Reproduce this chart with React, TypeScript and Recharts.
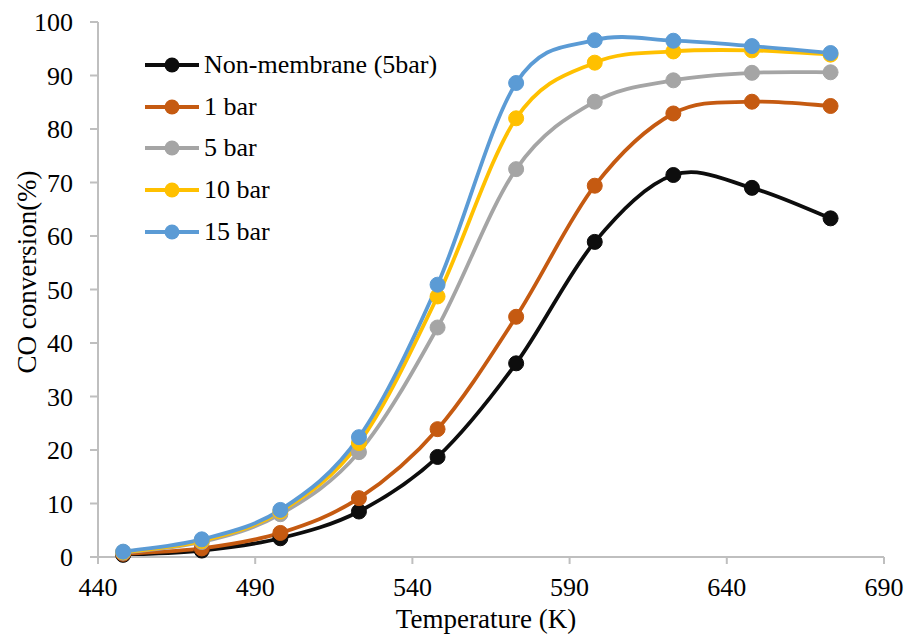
import React from 'react';
import { LineChart, Line, XAxis, YAxis } from 'recharts';

const temperatures = [448, 473, 498, 523, 548, 573, 598, 623, 648, 673];
const nonMembrane = [0.4, 1.2, 3.5, 8.5, 18.7, 36.2, 58.9, 71.4, 69.0, 63.3];
const bar1 = [0.6, 1.6, 4.5, 11.0, 23.9, 44.9, 69.4, 82.9, 85.1, 84.3];
const bar5 = [0.8, 2.8, 8.0, 19.6, 42.9, 72.5, 85.1, 89.1, 90.5, 90.6];
const bar10 = [0.9, 3.0, 8.5, 21.3, 48.7, 82.0, 92.4, 94.5, 94.7, 93.9];
const bar15 = [1.0, 3.3, 8.8, 22.4, 50.9, 88.6, 96.6, 96.5, 95.5, 94.2];

const xTicks = [440, 490, 540, 590, 640, 690];
const yTicks = [0, 10, 20, 30, 40, 50, 60, 70, 80, 90, 100];

const seriesNames = ['Non-membrane (5bar)', '1 bar', '5 bar', '10 bar', '15 bar'];
const seriesKeys = ['nm', 'b1', 'b5', 'b10', 'b15'];
const seriesValues = [nonMembrane, bar1, bar5, bar10, bar15];
const seriesColors = ['#0d0d0d', '#c55a11', '#a5a5a5', '#ffc000', '#5b9bd5'];

const data = temperatures.map((t, i) => {
  const row: any = { t };
  seriesKeys.forEach((k, j) => {
    row[k] = seriesValues[j][i];
  });
  return row;
});

// Excel-like smoothed line (Catmull-Rom style Bezier)
function excelCurve(context: any) {
  let pts: number[][] = [];
  return {
    areaStart() {},
    areaEnd() {},
    lineStart() {
      pts = [];
    },
    point(x: number, y: number) {
      pts.push([+x, +y]);
    },
    lineEnd() {
      const n = pts.length;
      if (n === 0) return;
      context.moveTo(pts[0][0], pts[0][1]);
      if (n === 1) return;
      for (let i = 0; i < n - 1; i++) {
        const p0 = pts[i - 1] || pts[i];
        const p1 = pts[i];
        const p2 = pts[i + 1];
        const p3 = pts[i + 2] || pts[i + 1];
        const c1x = p1[0] + (p2[0] - p0[0]) / 6;
        const c1y = p1[1] + (p2[1] - p0[1]) / 6;
        const c2x = p2[0] - (p3[0] - p1[0]) / 6;
        const c2y = p2[1] - (p3[1] - p1[1]) / 6;
        context.bezierCurveTo(c1x, c1y, c2x, c2y, p2[0], p2[1]);
      }
    },
  };
}

const font = '"Liberation Serif", "Times New Roman", serif';
const axisColor = '#bfbfbf';

const XTitle = () => (
  <text x={486} y={628} textAnchor="middle" fill="#000" fontSize={27} fontFamily={font}>
    Temperature (K)
  </text>
);

const YTitle = () => (
  <text
    x={0}
    y={0}
    transform="translate(36 272) rotate(-90)"
    textAnchor="middle"
    fill="#000"
    fontSize={27}
    fontFamily={font}
  >
    CO conversion(%)
  </text>
);

export default function App() {
  return (
    <div style={{ position: 'absolute', left: 0, top: 0, width: 908, height: 635, background: '#fff' }}>
      <LineChart
        width={908}
        height={635}
        data={data}
        margin={{ top: 22, right: 24, bottom: 0, left: 0 }}
      >
        <XAxis
          dataKey="t"
          type="number"
          domain={[440, 690]}
          ticks={xTicks}
          axisLine={{ stroke: axisColor, strokeWidth: 2 }}
          tickLine={{ stroke: axisColor, strokeWidth: 2 }}
          tickSize={7}
          tickMargin={14}
          tick={{ fill: '#000', fontSize: 26, fontFamily: font }}
          height={78}
          label={{ content: XTitle }}
        />
        <XAxis
          xAxisId="top"
          orientation="top"
          dataKey="t"
          type="number"
          domain={[440, 690]}
          height={0}
          tick={false}
          tickLine={false}
          axisLine={{ stroke: axisColor, strokeWidth: 2 }}
        />
        <YAxis
          type="number"
          domain={[0, 100]}
          ticks={yTicks}
          width={98}
          axisLine={{ stroke: axisColor, strokeWidth: 2 }}
          tickLine={{ stroke: axisColor, strokeWidth: 2 }}
          tickSize={8}
          tickMargin={17}
          tick={{ fill: '#000', fontSize: 26, fontFamily: font }}
          label={{ content: YTitle }}
        />
        <YAxis
          yAxisId="right"
          orientation="right"
          type="number"
          domain={[0, 100]}
          width={0}
          tick={false}
          tickLine={false}
          axisLine={{ stroke: axisColor, strokeWidth: 2 }}
        />
        {seriesKeys.map((k, j) => (
          <Line
            key={k}
            dataKey={k}
            name={seriesNames[j]}
            type={excelCurve as any}
            stroke={seriesColors[j]}
            strokeWidth={3.8}
            dot={{ r: 7.5, fill: seriesColors[j], stroke: seriesColors[j], strokeWidth: 1 }}
            activeDot={false}
            isAnimationActive={false}
          />
        ))}
      </LineChart>
      <div style={{ position: 'absolute', left: 145, top: 44, fontFamily: font, fontSize: 26, color: '#000' }}>
        {seriesNames.map((name, j) => (
          <div key={name} style={{ display: 'flex', alignItems: 'center', height: 41.7 }}>
            <svg width={56} height={20} style={{ marginRight: 3 }}>
              <line x1={0} y1={10} x2={54} y2={10} stroke={seriesColors[j]} strokeWidth={3.8} />
              <circle cx={27} cy={10} r={7.5} fill={seriesColors[j]} />
            </svg>
            <span>{name}</span>
          </div>
        ))}
      </div>
    </div>
  );
}
